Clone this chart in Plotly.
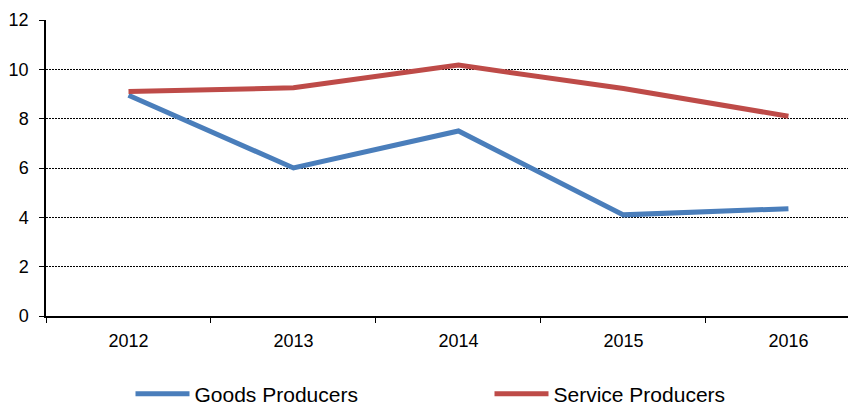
import plotly.graph_objects as go

years = ["2012", "2013", "2014", "2015", "2016"]
goods = [8.95, 6.0, 7.5, 4.1, 4.35]
service = [9.1, 9.25, 10.17, 9.22, 8.1]
y_ticks = [0, 2, 4, 6, 8, 10, 12]

fig = go.Figure()
fig.add_trace(go.Scatter(x=years, y=goods, mode="lines", name="Goods Producers",
                         line=dict(color="#4A7EBB", width=5)))
fig.add_trace(go.Scatter(x=years, y=service, mode="lines", name="Service Producers",
                         line=dict(color="#BE4B48", width=5)))

# page has an 8px body margin; figure is a bit larger than the window and gets cropped
fig.update_layout(
    width=856, height=430,
    margin=dict(l=38, r=0, t=12, b=122),
    plot_bgcolor="white", paper_bgcolor="white",
    font=dict(family="Liberation Sans, Arial", size=18, color="black"),
    legend=dict(orientation="h", x=0.1033, y=-0.2635, xanchor="left", yanchor="middle",
                entrywidth=290, entrywidthmode="pixels", itemwidth=54,
                font=dict(size=21)),
    xaxis=dict(type="category", range=[-0.5, 4.458], showline=True, linecolor="black",
               linewidth=1.5, ticks="outside", tickson="boundaries", ticklen=5,
               tickcolor="black", showgrid=False, ticklabelstandoff=8,
               automargin=False),
    yaxis=dict(range=[0, 12], tickvals=y_ticks, showline=True, linecolor="black",
               linewidth=1.5, ticks="outside", ticklen=5, tickcolor="black",
               showgrid=True, gridcolor="black", gridwidth=1, griddash="2px,1px",
               zeroline=False, ticklabelstandoff=7, automargin=False),
)

fig.write_html("out.html", config={"displayModeBar": False})
